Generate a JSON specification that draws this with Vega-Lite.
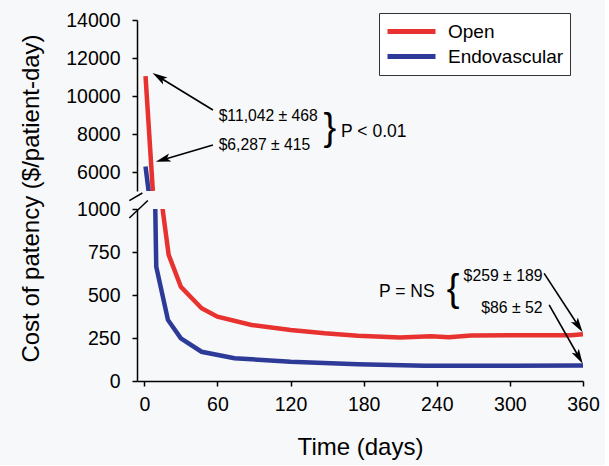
{
  "$schema": "https://vega.github.io/schema/vega-lite/v6.json",
  "background": "#f7f8f9",
  "padding": {"left": 18, "top": 10, "right": 5, "bottom": 5},
  "bounds": "flush",
  "spacing": 18,
  "config": {
    "view": {"stroke": null},
    "axis": {
      "domainColor": "black", "tickColor": "black", "domainWidth": 1.5, "tickWidth": 1.5, "tickSize": 5,
      "labelFont": "Liberation Sans", "labelFontSize": 19.5, "labelColor": "black",
      "titleFont": "Liberation Sans", "titleFontSize": 24, "titleFontWeight": "normal", "titleColor": "black",
      "grid": false, "labelOverlap": false, "labelFlush": false, "format": "d"
    }
  },
  "datasets": {
    "curves": [
      {"series": "Open", "day": 1, "cost": 11042},
      {"series": "Open", "day": 7, "cost": 5000},
      {"series": "Open", "day": 15, "cost": 1000},
      {"series": "Open", "day": 20, "cost": 733},
      {"series": "Open", "day": 30, "cost": 548},
      {"series": "Open", "day": 47, "cost": 423},
      {"series": "Open", "day": 60, "cost": 374},
      {"series": "Open", "day": 88, "cost": 326},
      {"series": "Open", "day": 120, "cost": 297},
      {"series": "Open", "day": 148, "cost": 277},
      {"series": "Open", "day": 175, "cost": 263},
      {"series": "Open", "day": 210, "cost": 253},
      {"series": "Open", "day": 235, "cost": 260},
      {"series": "Open", "day": 250, "cost": 254},
      {"series": "Open", "day": 268, "cost": 264},
      {"series": "Open", "day": 303, "cost": 266},
      {"series": "Open", "day": 350, "cost": 266},
      {"series": "Open", "day": 360, "cost": 272},
      {"series": "Endovascular", "day": 1, "cost": 6287},
      {"series": "Endovascular", "day": 3.5, "cost": 5000},
      {"series": "Endovascular", "day": 9, "cost": 1000},
      {"series": "Endovascular", "day": 9.8, "cost": 665},
      {"series": "Endovascular", "day": 19.4, "cost": 355},
      {"series": "Endovascular", "day": 30, "cost": 248},
      {"series": "Endovascular", "day": 47, "cost": 170},
      {"series": "Endovascular", "day": 74, "cost": 132},
      {"series": "Endovascular", "day": 120, "cost": 112},
      {"series": "Endovascular", "day": 175, "cost": 97},
      {"series": "Endovascular", "day": 230, "cost": 89},
      {"series": "Endovascular", "day": 268, "cost": 89},
      {"series": "Endovascular", "day": 300, "cost": 88},
      {"series": "Endovascular", "day": 360, "cost": 90}
    ]
  },
  "vconcat": [
    {
      "width": 446,
      "height": 171,
      "encoding": {
        "x": {"field": "day", "type": "quantitative", "scale": {"domain": [-6, 360], "nice": false, "zero": false}, "axis": null},
        "y": {"field": "cost", "type": "quantitative", "scale": {"domain": [5000, 14000], "nice": false, "zero": false},
              "axis": {"title": null, "values": [6000, 8000, 10000, 12000, 14000], "labelPadding": 12}}
      },
      "resolve": {"scale": {"color": "independent"}},
      "layer": [
        {
          "data": {"name": "curves"},
          "mark": {"type": "line", "clip": true, "strokeWidth": 4.5},
          "encoding": {
            "color": {"field": "series", "type": "nominal",
              "scale": {"domain": ["Open", "Endovascular"], "range": ["#e8322f", "#2d3a97"]},
              "legend": {"orient": "none", "legendX": 242, "legendY": -7, "title": null,
                "symbolType": "stroke", "symbolSize": 2304, "symbolStrokeWidth": 5, "clipHeight": 25,
                "labelFont": "Liberation Sans", "labelFontSize": 19, "labelColor": "black", "labelOffset": 10,
                "strokeColor": "#333333", "fillColor": "white", "padding": 6, "rowPadding": 0}}
          }
        },
        {
          "data": {"values": [
            {"day": 56.3, "cost": 9263, "day2": 12.0, "cost2": 11000},
            {"day": 56.3, "cost": 7421, "day2": 15.3, "cost2": 6648}
          ]},
          "mark": {"type": "rule", "color": "black", "strokeWidth": 1.6},
          "encoding": {"x2": {"field": "day2"}, "y2": {"field": "cost2"}}
        },
        {
          "data": {"values": [{"day": 12.0, "cost": 11000}]},
          "mark": {"type": "point", "shape": "M0,-1L0.55,1L0,0.55L-0.55,1Z", "filled": true, "color": "black", "opacity": 1, "size": 225, "angle": 301.5},
          "encoding": {}
        },
        {
          "data": {"values": [{"day": 15.3, "cost": 6648}]},
          "mark": {"type": "point", "shape": "M0,-1L0.55,1L0,0.55L-0.55,1Z", "filled": true, "color": "black", "opacity": 1, "size": 225, "angle": 253.6},
          "encoding": {}
        },
        {
          "data": {"values": [
            {"day": 61, "cost": 8950, "label": "$11,042 ± 468"},
            {"day": 61, "cost": 7400, "label": "$6,287 ± 415"}
          ]},
          "mark": {"type": "text", "align": "left", "baseline": "middle", "font": "Liberation Sans", "fontSize": 15.7, "color": "black"},
          "encoding": {"text": {"field": "label"}}
        },
        {
          "data": {"values": [{"day": 161.5, "cost": 8100, "label": "P < 0.01"}]},
          "mark": {"type": "text", "align": "left", "baseline": "middle", "font": "Liberation Sans", "fontSize": 17.5, "color": "black"},
          "encoding": {"text": {"field": "label"}}
        },
        {
          "data": {"values": [{"day": 152.3, "cost": 8250, "label": "}"}]},
          "mark": {"type": "text", "align": "center", "baseline": "middle", "font": "Liberation Sans", "fontSize": 38, "color": "black"},
          "encoding": {"text": {"field": "label"}}
        }
      ]
    },
    {
      "width": 446,
      "height": 172,
      "encoding": {
        "x": {"field": "day", "type": "quantitative", "scale": {"domain": [-6, 360], "nice": false, "zero": false},
              "axis": {"title": "Time (days)", "values": [0, 60, 120, 180, 240, 300, 360], "labelPadding": 9, "titlePadding": 22}},
        "y": {"field": "cost", "type": "quantitative", "scale": {"domain": [0, 1000], "nice": false, "zero": false},
              "axis": {"title": "Cost of patency ($/patient-day)", "values": [0, 250, 500, 750, 1000], "labelPadding": 12,
                       "titleX": -106, "titleY": -11, "titleAngle": 270, "titleAlign": "center", "titleBaseline": "middle"}}
      },
      "resolve": {"scale": {"color": "independent"}},
      "layer": [
        {
          "data": {"name": "curves"},
          "mark": {"type": "line", "clip": true, "strokeWidth": 4.5},
          "encoding": {
            "color": {"field": "series", "type": "nominal",
              "scale": {"domain": ["Open", "Endovascular"], "range": ["#e8322f", "#2d3a97"]}, "legend": null}
          }
        },
        {
          "data": {"values": [
            {"day": -12.3, "cost": 1049, "day2": -1.6, "cost2": 1093},
            {"day": -12.3, "cost": 948, "day2": 2.9, "cost2": 1049}
          ]},
          "mark": {"type": "rule", "color": "black", "strokeWidth": 1.5, "clip": false},
          "encoding": {"x2": {"field": "day2"}, "y2": {"field": "cost2"}}
        },
        {
          "data": {"values": [
            {"day": 328.1, "cost": 626, "day2": 356.3, "cost2": 320},
            {"day": 332.2, "cost": 442, "day2": 356.7, "cost2": 138}
          ]},
          "mark": {"type": "rule", "color": "black", "strokeWidth": 1.6},
          "encoding": {"x2": {"field": "day2"}, "y2": {"field": "cost2"}}
        },
        {
          "data": {"values": [{"day": 356.3, "cost": 320}]},
          "mark": {"type": "point", "shape": "M0,-1L0.55,1L0,0.55L-0.55,1Z", "filled": true, "color": "black", "opacity": 1, "size": 225, "angle": 146.7},
          "encoding": {}
        },
        {
          "data": {"values": [{"day": 356.7, "cost": 138}]},
          "mark": {"type": "point", "shape": "M0,-1L0.55,1L0,0.55L-0.55,1Z", "filled": true, "color": "black", "opacity": 1, "size": 225, "angle": 150.2},
          "encoding": {}
        },
        {
          "data": {"values": [
            {"day": 326.8, "cost": 610, "label": "$259 ± 189"},
            {"day": 326.8, "cost": 425, "label": "$86 ± 52"}
          ]},
          "mark": {"type": "text", "align": "right", "baseline": "middle", "font": "Liberation Sans", "fontSize": 15.8, "color": "black"},
          "encoding": {"text": {"field": "label"}}
        },
        {
          "data": {"values": [{"day": 192.6, "cost": 515, "label": "P = NS"}]},
          "mark": {"type": "text", "align": "left", "baseline": "middle", "font": "Liberation Sans", "fontSize": 17.5, "color": "black"},
          "encoding": {"text": {"field": "label"}}
        },
        {
          "data": {"values": [{"day": 253.3, "cost": 530, "label": "{"}]},
          "mark": {"type": "text", "align": "center", "baseline": "middle", "font": "Liberation Sans", "fontSize": 38, "color": "black"},
          "encoding": {"text": {"field": "label"}}
        }
      ]
    }
  ]
}
